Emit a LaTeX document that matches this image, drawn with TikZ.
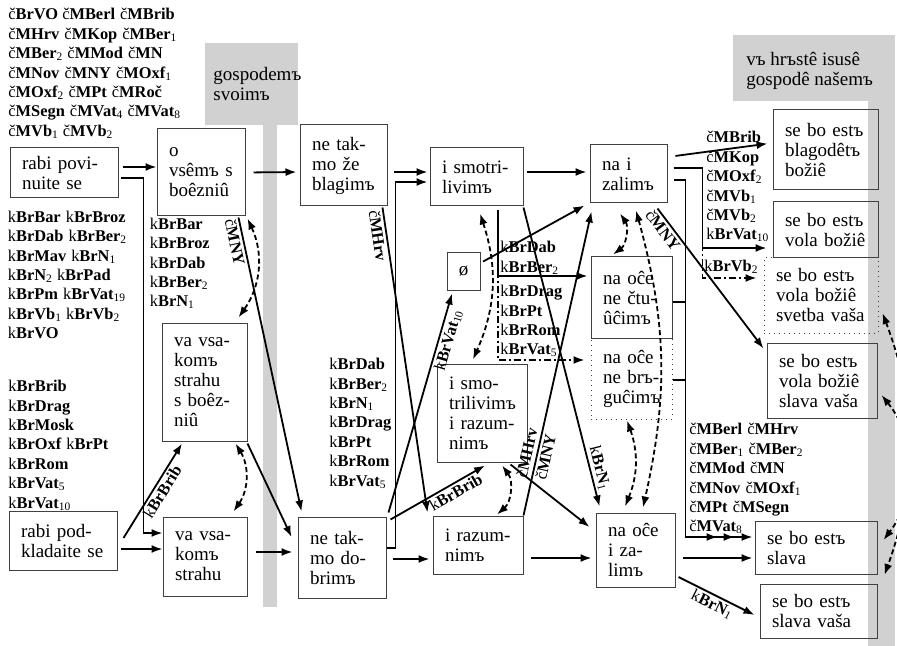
\documentclass[tikz,border=0pt]{standalone}
\usepackage{fontspec}
\setmainfont{Liberation Serif}
\usetikzlibrary{arrows.meta, positioning}
\usepackage{xcolor}

\newcommand{\kbr}[2][]{k\textbf{Br#2}\textsubscript{#1}}
\newcommand{\cmm}[2][]{č\textbf{M#2}\textsubscript{#1}}

\begin{document}
\begin{tikzpicture}[
    x=0.5pt, y=-0.5pt,
    box/.style={rectangle, draw=black!75, line width=0.5pt, align=left, inner xsep=6pt, inner ysep=0pt, font=\fontsize{9.5}{10}\selectfont},
    dotbox/.style={box, dotted},
    head/.style={anchor=west, align=left, inner sep=0pt, font=\fontsize{9.5}{10}\selectfont},
    sig/.style={anchor=north west, align=left, inner sep=0pt, font=\fontsize{8.2}{9.7}\selectfont},
    slab/.style={sloped, align=center, inner sep=1pt, font=\fontsize{8.2}{9.7}\selectfont},
    arr/.style={-{Latex[length=5.5pt,width=4pt]}, line width=0.9pt},
    twin/.style={{Latex[length=5.5pt,width=4pt]}-{Latex[length=5.5pt,width=4pt]}, line width=0.9pt, dash pattern=on 2.5pt off 1.5pt},
    dashdot/.style={arr, dash pattern=on 3.5pt off 1.5pt on 1pt off 1.5pt},
    band/.style={fill=black!18}
]
\useasboundingbox (0,0) rectangle (897,646);
\clip (0,0) rectangle (897,646);

\fill[band] (205,43) rectangle (298,125);
\fill[band] (263,125) rectangle (277,607);
\fill[band] (733,35) rectangle (895,101);
\fill[band] (868,101) rectangle (895,646);
\node[head] (hgos) at (213,84) {gospodemъ\\svoimъ};
\node[head] (hhrs) at (746,71) {vъ hrъstê isusê\\gospodê našemъ};

\node[box, text width=42pt, minimum height=25pt] (bpov) at (64,173) {rabi povi-\\nuite se};
\node[box, text width=32pt, minimum height=43.5pt] (bvsem) at (201,172.5) {o\\vsêmъ s\\boêzniû};
\node[box, text width=31.5pt, minimum height=40.5pt] (bblag) at (343.5,165.5) {ne tak-\\mo že\\blagimъ};
\node[box, text width=34.5pt, minimum height=29pt] (bsmot) at (476.5,177) {i smotri-\\livimъ};
\node[box, text width=26.5pt, minimum height=29pt] (bzal) at (628.5,174) {na i\\zalimъ};
\node[box, text width=40.5pt, minimum height=40pt] (bblg) at (825.5,150) {se bo estъ\\blagodêtъ\\božiê};
\node[box, text width=40.5pt, minimum height=28pt] (bvol) at (825.5,230) {se bo estъ\\vola božiê};
\node[dotbox, text width=45pt, minimum height=37.5pt] (bsvet) at (821,295.5) {se bo estъ\\vola božiê\\svetba vaša};
\node[box, text width=43pt, minimum height=37.5pt] (bslv) at (822,380.5) {se bo estъ\\vola božiê\\slava vaša};
\node[box, text width=49pt, minimum height=26.5pt] (bslava) at (816,547.5) {se bo estъ\\slava};
\node[box, text width=46.5pt, minimum height=27pt] (bslvas) at (818.5,611) {se bo estъ\\slava vaša};
\node[box, align=center, inner sep=0pt, minimum width=16.5pt, minimum height=18.5pt] (bnull) at (463.5,271.5) {ø};
\node[box, text width=28.5pt, minimum height=40.5pt] (bctu) at (631.5,297.5) {na oĉe\\ne čtu-\\ûĉimъ};
\node[dotbox, text width=28.5pt, minimum height=40.5pt] (bbrg) at (631.5,378.5) {na oĉe\\ne brъ-\\guĉimъ};
\node[box, text width=33pt, minimum height=49pt] (bsmraz) at (482,413) {i smo-\\trilivimъ\\i razum-\\nimъ};
\node[box, text width=30.5pt, minimum height=59pt] (bvsas) at (204.5,382) {va vsa-\\komъ\\strahu\\s boêz-\\niû};
\node[box, text width=42pt, minimum height=29.5pt] (bpod) at (63,540.5) {rabi pod-\\kladaite se};
\node[box, text width=30pt, minimum height=39.5pt] (bstr) at (205,556.5) {va vsa-\\komъ\\strahu};
\node[box, text width=32pt, minimum height=40.5pt] (bdob) at (342,557.5) {ne tak-\\mo do-\\brimъ};
\node[box, text width=33pt, minimum height=29pt] (braz) at (478,545) {i razum-\\nimъ};
\node[box, text width=27.5pt, minimum height=37pt] (bzal2) at (635.5,550) {na oĉe\\i za-\\limъ};

\node[sig] (sigTop) at (8,8) {č\textbf{BrVO} \cmm{Berl} \cmm{Brib}\\\cmm{Hrv} \cmm{Kop} \cmm[1]{Ber}\\\cmm[2]{Ber} \cmm{Mod} \cmm{N}\\\cmm{Nov} \cmm{NY} \cmm[1]{Oxf}\\\cmm[2]{Oxf} \cmm{Pt} \cmm{Roč}\\\cmm{Segn} \cmm[4]{Vat} \cmm[8]{Vat}\\\cmm[1]{Vb} \cmm[2]{Vb}};
\node[sig, below right=6pt and -1pt of bpov.south west] (sigPov) {\kbr{Bar} \kbr{Broz}\\\kbr{Dab} \kbr[2]{Ber}\\\kbr{Mav} \kbr[1]{N}\\\kbr[2]{N} \kbr{Pad}\\\kbr{Pm} \kbr[19]{Vat}\\\kbr[1]{Vb} \kbr[2]{Vb}\\\kbr{VO}};
\node[sig] (sigPod) at (8,380) {\kbr{Brib}\\\kbr{Drag}\\\kbr{Mosk}\\\kbr{Oxf} \kbr{Pt}\\\kbr{Rom}\\\kbr[5]{Vat}\\\kbr[10]{Vat}};
\node[sig, below right=0.5pt and -3.5pt of bvsem.south west] (sigVsem) {\kbr{Bar}\\\kbr{Broz}\\\kbr{Dab}\\\kbr[2]{Ber}\\\kbr[1]{N}};
\node[sig] (sigDob) at (329,358) {\kbr{Dab}\\\kbr[2]{Ber}\\\kbr[1]{N}\\\kbr{Drag}\\\kbr{Pt}\\\kbr{Rom}\\\kbr[5]{Vat}};
\node[sig] (sigCtu) at (500,241) {\kbr{Dab}\\\kbr[2]{Ber}};
\node[sig] (sigBrg) at (500,285) {\kbr{Drag}\\\kbr{Pt}\\\kbr{Rom}\\\kbr[5]{Vat}};
\node[sig] (sigVol) at (706,131) {\cmm{Brib}\\\cmm{Kop}\\\cmm[2]{Oxf}\\\cmm[1]{Vb}\\\cmm[2]{Vb}\\\kbr[10]{Vat}};
\node[sig] (sigSvet) at (704,260) {\kbr[2]{Vb}};
\node[sig] (sigSlava) at (689,423) {\cmm{Berl} \cmm{Hrv}\\\cmm[1]{Ber} \cmm[2]{Ber}\\\cmm{Mod} \cmm{N}\\\cmm{Nov} \cmm[1]{Oxf}\\\cmm{Pt} \cmm{Segn}\\\cmm[8]{Vat}};

\draw[arr, shorten <=2pt] ([yshift=3pt]bpov.east) -- ([yshift=2.75pt]bvsem.west);
\draw[arr, shorten <=1pt] ([yshift=-2.5pt]bpov.east) -- ++(25,0) |- ([yshift=11.75pt]bstr.west);
\draw[arr, shorten <=4pt, shorten >=1.5pt] (bvsem.east) -- ([yshift=-3.25pt]bblag.west);
\draw[arr, shorten <=3pt, shorten >=1pt] ([yshift=-3.25pt]bblag.east) -- ([yshift=2.5pt]bsmot.west);
\draw[arr, shorten >=1pt] ([yshift=4.75pt]bdob.east) -- ++(9,0) |- ([yshift=-2.5pt]bsmot.west);
\draw[arr, shorten <=1.5pt, shorten >=1.5pt] ([yshift=2.5pt]bsmot.east) -- ([yshift=1pt]bzal.west);
\draw[arr, shorten <=4pt, shorten >=2.5pt] ([yshift=8.5pt]bzal.east) -- ([yshift=3.5pt]bblg.west);
\draw[dashdot, shorten <=3pt, shorten >=3.5pt] ([yshift=3pt]bzal.east) -- ++(35,0) |- ([yshift=8.75pt]bsvet.west);
\draw[arr, shorten <=3pt, shorten >=3pt] ([yshift=3pt]bzal.east) -- ++(35,0) |- ([yshift=-9pt]bvol.west);
\draw[arr, shorten <=3pt, shorten >=1pt] ([yshift=-3pt]bzal.east) -- ++(18,0) |- ([yshift=5.25pt]bslava.west);
\draw[arr] ([yshift=-2.25pt]bctu.east) -- ++(13,0) |- ([xshift=-10pt,yshift=5.25pt]bslava.west);
\draw[arr] ([yshift=-0.75pt]bbrg.east) -- ++(13,0) |- ([xshift=-18.5pt,yshift=5.25pt]bslava.west);
\draw[arr] ([xshift=-5pt,yshift=-2.5pt]bzal.south east) -- ([xshift=-1.5pt,yshift=-3pt]bslv.north west) node[slab, below, pos=0.12] {\cmm{NY}};
\draw[arr, shorten <=1.5pt] ([yshift=4.25pt]bnull.east) -- ([xshift=-2.5pt,yshift=-1pt]bzal.south west);
\draw[arr] (braz.north east) -- ([xshift=1pt,yshift=-4pt]bzal.south west) node[slab, pos=0.2] {\cmm{Hrv}\\\cmm{NY}};
\draw[arr] ([yshift=-0.5pt]bsmot.south east) -- ([xshift=2pt,yshift=3pt]bzal2.north west) node[slab, above, pos=0.88] {\kbr[1]{N}};
\draw[arr] ([xshift=-2.5pt,yshift=-0.5pt]bblag.south east) -- ([xshift=-2.5pt,yshift=1.5pt]braz.north west) node[slab, below, pos=0.09] {\cmm{Hrv}};
\draw[arr] ([xshift=-3.5pt,yshift=-0.5pt]bvsem.south east) -- ([xshift=2pt,yshift=2.5pt]bdob.north west) node[slab, below, pos=0.08] {\cmm{NY}};
\draw[arr] ([yshift=-1pt]bvsas.south east) -- ([xshift=-3pt,yshift=10.25pt]bdob.west);
\draw[arr] ([xshift=3pt,yshift=1.25pt]bpod.east) -- ([xshift=-11.25pt,yshift=-1pt]bvsas.south) node[slab, below, pos=0.54] {\kbr{Brib}};
\draw[arr, shorten <=1.5pt] ([yshift=-4.25pt]bpod.east) -- ([yshift=3.75pt]bstr.west);
\draw[arr, shorten <=4pt, shorten >=2.5pt] ([yshift=2.25pt]bstr.east) -- ([yshift=2.75pt]bdob.west);
\draw[arr, shorten <=3pt, shorten >=1.5pt] ([yshift=-0.75pt]bdob.east) -- ([yshift=-7pt]braz.west);
\draw[arr, shorten <=3.5pt, shorten >=2pt] ([yshift=-6.5pt]braz.east) -- ([yshift=-4pt]bzal2.west);
\draw[arr, shorten <=3.5pt, shorten >=1pt] ([yshift=-4pt]bzal2.east) -- ([yshift=-5.25pt]bslava.west);
\draw[arr] ([xshift=1.5pt,yshift=-13.5pt]bzal2.east) -- ([xshift=-2.5pt,yshift=-2pt]bslvas.west) node[slab, below, pos=0.5] {\kbr[1]{N}};
\draw[arr] ([xshift=1pt,yshift=2pt]bdob.north east) -- ([xshift=-5.75pt,yshift=-1.5pt]bnull.south) node[slab, below, pos=0.8] {\kbr[10]{Vat}};
\draw[arr] ([xshift=2pt,yshift=-1.5pt]bdob.north east) -- ([xshift=1.5pt,yshift=-1.5pt]bsmraz.south) node[slab, below, pos=0.65] {\kbr{Brib}};
\draw[arr] ([xshift=-8.5pt,yshift=-1pt]bsmraz.south east) -- ([xshift=-3pt,yshift=11.5pt]bzal2.west);
\draw[dashdot, shorten >=3pt] ([xshift=10.75pt,yshift=-2pt]bsmot.south) |- ([yshift=9.25pt]bbrg.west);
\draw[arr, shorten >=1.5pt] ([xshift=10.75pt,yshift=-2pt]bsmot.south) |- ([yshift=10.75pt]bctu.west);

\draw[twin] ([xshift=1pt,yshift=-1pt]bvsem.south east) to[bend left=30] ([xshift=-4.5pt,yshift=2.5pt]bvsas.north east);
\draw[twin] ([xshift=-6pt,yshift=-1pt]bvsas.south east) to[bend left=33] ([xshift=-7pt,yshift=2.5pt]bstr.north east);
\draw[twin] ([xshift=1.75pt,yshift=-3.5pt]bsmot.south) to[bend left=21] ([xshift=-4.5pt,yshift=2pt]bsmraz.north);
\draw[twin] ([xshift=10pt,yshift=-1.5pt]bsmraz.south) to[bend left=43] ([xshift=9.5pt,yshift=0.5pt]braz.north);
\draw[twin] ([xshift=-4.25pt,yshift=-5pt]bzal.south) to[bend left=44] ([xshift=-9.25pt,yshift=1pt]bctu.north);
\draw[twin] ([xshift=-2.25pt,yshift=-0.5pt]bbrg.south) to[bend left=21] ([xshift=-5.25pt,yshift=3pt]bzal2.north);
\draw[twin] ([xshift=3.75pt,yshift=-3.5pt]bzal.south) to[bend left=14] ([xshift=3.75pt,yshift=2.5pt]bzal2.north);
\draw[twin] ([xshift=2pt,yshift=-7.25pt]bslv.east) to[bend left=38] ([xshift=3pt,yshift=3.75pt]bslava.east);
\draw[twin] ([xshift=2pt,yshift=-8.75pt]bsvet.east) to[bend left=20] ([xshift=3.5pt,yshift=18pt]bslvas.east);
\end{tikzpicture}
\end{document}
